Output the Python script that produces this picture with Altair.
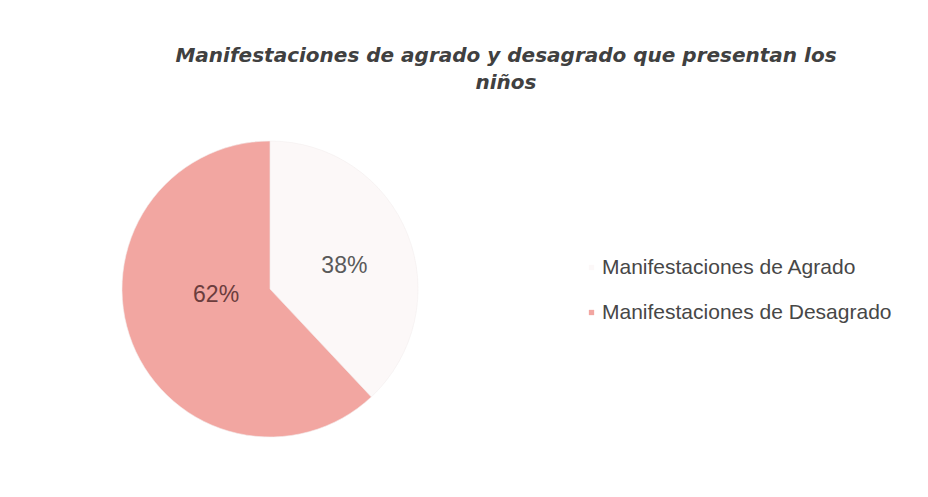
import altair as alt
import pandas as pd

categories = ["Manifestaciones de Agrado", "Manifestaciones de Desagrado"]
values = [38, 62]
labels = ["38%", "62%"]
colors = ["#fcf8f8", "#f2a6a1"]

df = pd.DataFrame({"cat": categories, "val": values, "lab": labels, "order": [0, 1]})

FONT = "Liberation Sans"
CX, CY, R = 262, 181, 148

base = alt.Chart(df).encode(
    theta=alt.Theta("val:Q", stack=True),
    order=alt.Order("order:Q"),
    x=alt.value(CX),
    y=alt.value(CY),
)

arc = base.mark_arc(outerRadius=R, stroke="#f4eeee", strokeWidth=0.6).encode(
    color=alt.Color("cat:N", sort=categories,
                    scale=alt.Scale(domain=categories, range=colors),
                    legend=alt.Legend(title=None, orient="none", legendX=573, legendY=149,
                                      labelFont=FONT, labelFontSize=21, labelColor="#474747",
                                      symbolType="square", symbolSize=28, symbolStrokeWidth=0,
                                      rowPadding=23, labelLimit=500, labelOffset=0)),
)

t_agr = base.mark_text(radius=80, dy=6, font=FONT, fontSize=23, color="#5a5a5a").encode(
    text=alt.Text("lab0:N")
).transform_calculate(lab0="datum.order == 0 ? datum.lab : ''")

t_des = base.mark_text(radius=58, dy=-15, font=FONT, fontSize=23, color="#6b3d3d").encode(
    text=alt.Text("lab1:N")
).transform_calculate(lab1="datum.order == 1 ? datum.lab : ''")

chart = alt.layer(arc, t_agr, t_des).properties(
    width=912, height=373,
    background="white",
    padding={"top": 100, "left": 0, "right": 0, "bottom": 0},
    autosize=alt.AutoSizeParams(type="none"),
    title=alt.TitleParams(
        ["Manifestaciones de agrado y desagrado que presentan los", "niños"],
        font="DejaVu Sans", fontSize=20, fontStyle="italic", fontWeight="bold", color="#404040",
        anchor="middle", dx=42, offset=15, lineHeight=27),
).configure_view(strokeWidth=0)

chart.save("out.html", embed_options={"renderer": "svg", "actions": False})
